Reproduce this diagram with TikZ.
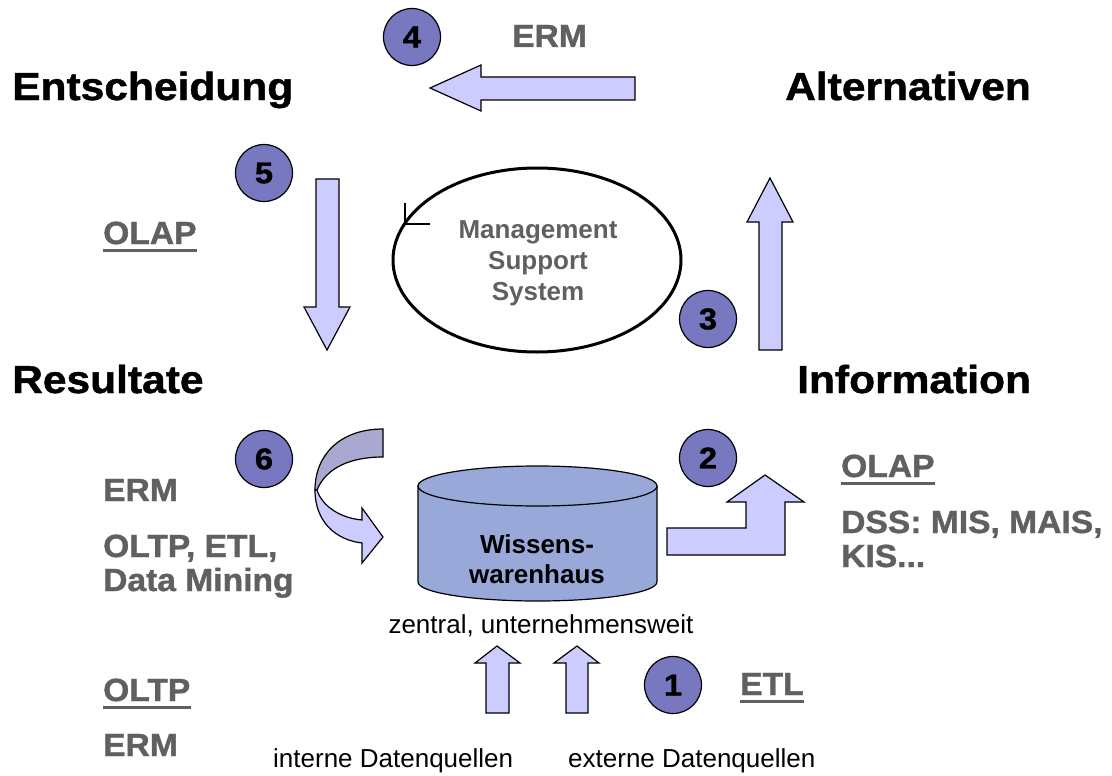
\documentclass[tikz,border=0pt]{standalone}
\usepackage{fontspec}
\setmainfont{Liberation Sans}
\newfontfamily\heavy{Liberation Sans}[FakeStretch=1.09,FakeBold=1.2]
\newfontfamily\heavytag{Liberation Sans}[FakeStretch=1.05,FakeBold=1.2]
\definecolor{arrowfill}{RGB}{204,204,255}
\definecolor{badgefill}{RGB}{120,120,192}
\definecolor{drum}{RGB}{152,168,216}
\definecolor{ribbon}{RGB}{168,168,208}
\definecolor{note}{RGB}{96,96,96}
\tikzset{
  blockarrow/.style={draw=black, line width=1.2pt, fill=arrowfill, line join=miter},
  badge/.style={circle, draw=black, line width=1.2pt, fill=badgefill, minimum size=57pt,
    inner sep=0pt, font=\heavy\bfseries\fontsize{30}{30}\selectfont},
  heading/.style={anchor=base west, inner sep=0pt, font=\heavy\bfseries\fontsize{39}{44}\selectfont},
  tag/.style={anchor=base west, inner sep=0pt, text=note, font=\heavytag\bfseries\fontsize{32}{34}\selectfont},
  plain/.style={anchor=base west, inner sep=0pt, font=\fontsize{26}{30}\selectfont},
  centred/.style={anchor=base, inner sep=0pt, font=\bfseries\fontsize{26}{30}\selectfont},
  underl/.style={note, line width=3pt}
}
\begin{document}
\begin{tikzpicture}[x=1pt, y=-1pt]
\useasboundingbox (0,0) rectangle (1112,776);

% headings of the cycle
\node[heading] (ent) at (12,100) {Entscheidung};
\node[heading] (alt) at (785,100) {Alternativen};
\node[heading] (res) at (12,393) {Resultate};
\node[heading] (inf) at (797,393) {Information};

% management support system loop
\draw[line width=3pt] (537,260) ellipse[x radius=144, y radius=92];
\draw[line width=2pt] (405,203) -- (405,224) -- (430,224);
\node[centred, text=note] (mss1) at (538,238) {Management};
\node[centred, text=note] (mss2) at (538,269) {Support};
\node[centred, text=note] (mss3) at (538,300) {System};

% block arrows of the cycle
\path[blockarrow] (635,77) -- (481,77) -- (481,65) -- (430,88) -- (481,111) -- (481,100) -- (635,100) -- cycle;
\path[blockarrow] (316,179) -- (339,179) -- (339,307) -- (350,307) -- (327,350) -- (304,307) -- (316,307) -- cycle;
\path[blockarrow] (759,350) -- (759,222) -- (747,222) -- (770,178) -- (793,222) -- (782,222) -- (782,350) -- cycle;
\path[blockarrow] (667,528) -- (746,528) -- (746,502) -- (727,502) -- (765,475) -- (804,502) -- (785,502) -- (785,555) -- (667,555) -- cycle;
\path[blockarrow] (486,713) -- (486,663) -- (475,663) -- (497,646) -- (520,663) -- (509,663) -- (509,713) -- cycle;
\path[blockarrow] (566,713) -- (566,663) -- (554,663) -- (577,646) -- (599,663) -- (588,663) -- (588,713) -- cycle;

% curved arrow into the warehouse
\path[blockarrow, fill=ribbon] (383,429) .. controls (340,429) and (315,455) .. (315,490)
  -- (317,490) .. controls (326,468) and (350,457) .. (383,457) -- cycle;
\path[blockarrow] (315,490) .. controls (315,522) and (336,540) .. (362,543)
  -- (362,563) -- (383,537) -- (362,508) -- (362,520)
  .. controls (340,518) and (322,506) .. (317,490) -- cycle;

% the warehouse drum
\path[draw=black, line width=1.2pt, fill=drum] (418,486) -- (418,582)
  arc[start angle=180, end angle=0, x radius=119.5, y radius=19] -- (657,486) -- cycle;
\draw[line width=1.2pt, fill=drum] (537.5,486) ellipse[x radius=119.5, y radius=20];
\node[centred] (wh1) at (537,553) {Wissens-};
\node[centred] (wh2) at (537,583) {warenhaus};
\node[plain, anchor=base] (zen) at (541,633) {zentral, unternehmensweit};
\node[plain] (intq) at (273,767) {interne Datenquellen};
\node[plain] (extq) at (568,767) {externe Datenquellen};

% numbered steps
\node[badge] (b1) at (673,685) {1};
\node[badge] (b2) at (708,458) {2};
\node[badge] (b3) at (708,319) {3};
\node[badge] (b4) at (412,37) {4};
\node[badge] (b5) at (264,173) {5};
\node[badge] (b6) at (264,459) {6};

% method labels
\node[tag] (ermT) at (512,47) {ERM};
\node[tag] (olapL) at (103,244) {OLAP};
\draw[underl] ([yshift=-6pt]olapL.base west) -- ([yshift=-6pt]olapL.base east);
\node[tag] (ermL) at (103,501) {ERM};
\node[tag] (oltpL) at (103,557) {OLTP, ETL,};
\node[tag] (dmL) at (103,591) {Data Mining};
\node[tag] (oltpB) at (103,701) {OLTP};
\draw[underl] ([yshift=-6pt]oltpB.base west) -- ([yshift=-6pt]oltpB.base east);
\node[tag] (ermB) at (103,756) {ERM};
\node[tag] (olapR) at (841,477) {OLAP};
\draw[underl] ([yshift=-6pt]olapR.base west) -- ([yshift=-6pt]olapR.base east);
\node[tag] (dss) at (841,533) {DSS: MIS, MAIS,};
\node[tag] (kis) at (841,567) {KIS...};
\node[tag] (etl) at (740,695) {ETL};
\draw[underl] ([yshift=-6pt]etl.base west) -- ([yshift=-6pt]etl.base east);
\end{tikzpicture}
\end{document}
